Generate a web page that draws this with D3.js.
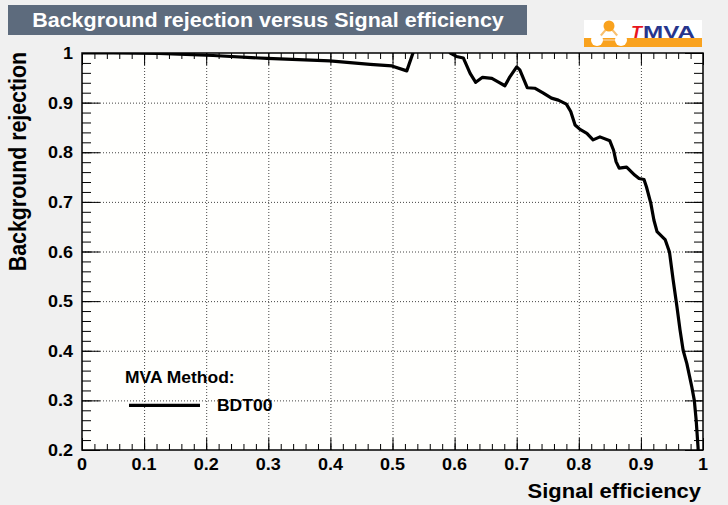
<!DOCTYPE html>
<html>
<head>
<meta charset="utf-8">
<script src="https://cdn.jsdelivr.net/npm/d3@7"></script>
<style>
	body { margin: 0; background: #f0f0f0; }
	svg text { font-family: "Liberation Sans", Arial, Helvetica, sans-serif; font-weight: bold; }
</style>
</head>
<body>
<div id="chart"></div>
<script>
// ROC curve (signal efficiency vs background rejection)
var sigEff = [0.0, 0.05, 0.123, 0.211, 0.298, 0.399, 0.464, 0.499, 0.523, 0.533, 0.545, 0.58, 0.593,
	0.603, 0.614, 0.625, 0.634, 0.645, 0.660, 0.670, 0.681, 0.689, 0.700, 0.705, 0.717, 0.729,
	0.743, 0.756, 0.767, 0.780, 0.787, 0.794, 0.802, 0.813, 0.823, 0.834, 0.850, 0.856, 0.860,
	0.865, 0.877, 0.890, 0.897, 0.905, 0.909, 0.916, 0.921, 0.926, 0.939, 0.946, 0.952, 0.958,
	0.963, 0.968, 0.974, 0.982, 0.986, 0.989, 0.992, 0.994];
var bkgRej = [1.0, 1.0, 0.999, 0.995, 0.989, 0.984, 0.977, 0.974, 0.964, 1.0, 1.03, 1.03, 1.0,
	0.993, 0.990, 0.959, 0.941, 0.951, 0.949, 0.942, 0.934, 0.952, 0.972, 0.966, 0.930, 0.929,
	0.919, 0.909, 0.905, 0.897, 0.882, 0.855, 0.846, 0.838, 0.825, 0.831, 0.823, 0.804, 0.781,
	0.768, 0.770, 0.754, 0.747, 0.745, 0.730, 0.697, 0.663, 0.640, 0.624, 0.599, 0.542, 0.489,
	0.442, 0.401, 0.374, 0.327, 0.300, 0.260, 0.206, 0.15];

var xTicks = [0, 0.1, 0.2, 0.3, 0.4, 0.5, 0.6, 0.7, 0.8, 0.9, 1];
var xTickLabels = ["0", "0.1", "0.2", "0.3", "0.4", "0.5", "0.6", "0.7", "0.8", "0.9", "1"];
var yTicks = [0.2, 0.3, 0.4, 0.5, 0.6, 0.7, 0.8, 0.9, 1];
var yTickLabels = ["0.2", "0.3", "0.4", "0.5", "0.6", "0.7", "0.8", "0.9", "1"];
var methodNames = ["BDT00"];

var W = 728, H = 505;
var margin = {top: 53, right: 25, bottom: 55, left: 82};
var width = W - margin.left - margin.right;
var height = H - margin.top - margin.bottom;
var sq = 0.9; // picture is a bit squashed vertically

var x = d3.scaleLinear().domain([0, 1]).range([0, width]);
var y = d3.scaleLinear().domain([0.2, 1]).range([height, 0]);

var svg = d3.select("#chart").append("svg")
	.attr("width", W)
	.attr("height", H);

svg.append("rect")
	.attr("width", W).attr("height", H)
	.attr("fill", "#f0f0f0");

// title box
svg.append("rect")
	.attr("x", 8).attr("y", 5)
	.attr("width", 519).attr("height", 30)
	.attr("fill", "#5D6B7D");

svg.append("text")
	.attr("transform", "translate(268,27) scale(1," + sq + ")")
	.attr("text-anchor", "middle")
	.attr("fill", "#fff")
	.attr("font-size", "21.5px")
	.text("Background rejection versus Signal efficiency");

// TMVA logo
var logo = svg.append("g").attr("class", "logo");
logo.append("rect").attr("x", 584).attr("y", 20).attr("width", 118).attr("height", 18).attr("fill", "#fff");
logo.append("rect").attr("x", 584).attr("y", 38).attr("width", 118).attr("height", 9).attr("fill", "#f9a21e");
logo.append("line").attr("x1", 609).attr("y1", 26).attr("x2", 597).attr("y2", 40)
	.attr("stroke", "#f9c070").attr("stroke-width", 2);
logo.append("line").attr("x1", 609).attr("y1", 26).attr("x2", 621).attr("y2", 40)
	.attr("stroke", "#f9c070").attr("stroke-width", 2);
logo.append("line").attr("x1", 597).attr("y1", 40).attr("x2", 621).attr("y2", 40)
	.attr("stroke", "#f9c070").attr("stroke-width", 2);
logo.append("circle").attr("cx", 609).attr("cy", 26).attr("r", 5.5).attr("fill", "#f9a21e");
logo.append("circle").attr("cx", 597).attr("cy", 40).attr("r", 6).attr("fill", "#fff");
logo.append("circle").attr("cx", 621).attr("cy", 40).attr("r", 6).attr("fill", "#fff");
logo.append("text")
	.attr("x", 631).attr("y", 37.5)
	.attr("fill", "#e8141c")
	.attr("font-size", "17px")
	.attr("font-style", "italic")
	.attr("textLength", 11).attr("lengthAdjust", "spacingAndGlyphs")
	.text("T");
logo.append("text")
	.attr("x", 643).attr("y", 37.5)
	.attr("fill", "#27358c")
	.attr("font-size", "17px")
	.attr("textLength", 52).attr("lengthAdjust", "spacingAndGlyphs")
	.text("MVA");

var g = svg.append("g")
	.attr("transform", "translate(" + margin.left + "," + margin.top + ")");

// frame
g.append("rect")
	.attr("width", width).attr("height", height)
	.attr("fill", "#fffffd");

// grid lines (dotted), skip the frame edges
var inner = function (arr, lo, hi) { return arr.filter(function (d) { return d > lo && d < hi; }); };

g.append("g")
	.attr("class", "grid")
	.attr("transform", "translate(0," + height + ")")
	.call(d3.axisBottom(x).tickValues(inner(xTicks, 0, 1)).tickSize(-height).tickFormat(""));
g.append("g")
	.attr("class", "grid")
	.call(d3.axisLeft(y).tickValues(inner(yTicks, 0.2, 1)).tickSize(-width).tickFormat(""));
g.selectAll(".grid .domain").remove();
g.selectAll(".grid line")
	.attr("stroke", "#444")
	.attr("stroke-dasharray", "1,2")
	.attr("stroke-width", 1);

// ticks on all four sides, pointing in
var minorX = d3.range(0, 1.0001, 0.02);
var minorY = d3.range(0.2, 1.0001, 0.02);
var tickLenX = 12, tickLenY = 18;

function ticks(axis, vals, len, tr) {
	var a = g.append("g").attr("class", "ticks");
	if (tr) a.attr("transform", tr);
	a.call(axis.tickValues(vals).tickSize(-len).tickFormat(""));
	a.select(".domain").remove();
	a.selectAll("line").attr("stroke", "#000").attr("stroke-width", 1);
}
ticks(d3.axisBottom(x), xTicks, tickLenX, "translate(0," + height + ")");
ticks(d3.axisBottom(x), minorX, tickLenX / 2, "translate(0," + height + ")");
ticks(d3.axisTop(x), xTicks, tickLenX, null);
ticks(d3.axisTop(x), minorX, tickLenX / 2, null);
ticks(d3.axisLeft(y), yTicks, tickLenY, null);
ticks(d3.axisLeft(y), minorY, tickLenY / 2, null);
ticks(d3.axisRight(y), yTicks, tickLenY, "translate(" + width + ",0)");
ticks(d3.axisRight(y), minorY, tickLenY / 2, "translate(" + width + ",0)");

// tick labels
g.selectAll("text.xlab")
	.data(xTicks)
	.join("text")
	.attr("class", "xlab")
	.attr("transform", function (d) { return "translate(" + x(d) + "," + (height + 20) + ") scale(1," + sq + ")"; })
	.attr("text-anchor", "middle")
	.attr("font-size", "18px")
	.text(function (d, i) { return xTickLabels[i]; });

g.selectAll("text.ylab")
	.data(yTicks)
	.join("text")
	.attr("class", "ylab")
	.attr("transform", function (d) { return "translate(-9," + (y(d) + 6) + ") scale(1," + sq + ")"; })
	.attr("text-anchor", "end")
	.attr("font-size", "18px")
	.text(function (d, i) { return yTickLabels[i]; });

// axis titles
svg.append("text")
	.attr("transform", "translate(701,498) scale(1," + sq + ")")
	.attr("text-anchor", "end")
	.attr("font-size", "22px")
	.text("Signal efficiency");

svg.append("text")
	.attr("transform", "translate(26,52) rotate(-90) scale(" + sq + ",1)")
	.attr("text-anchor", "end")
	.attr("font-size", "23.7px")
	.text("Background rejection");

// curve
g.append("clipPath")
	.attr("id", "clip")
	.append("rect")
	.attr("width", width).attr("height", height);

var pts = sigEff.map(function (d, i) { return {x: d, y: bkgRej[i]}; });

var line = d3.line()
	.x(function (d) { return x(d.x); })
	.y(function (d) { return y(d.y); });

g.append("path")
	.datum(pts)
	.attr("clip-path", "url(#clip)")
	.attr("fill", "none")
	.attr("stroke", "#000")
	.attr("stroke-width", 3.2)
	.attr("stroke-linejoin", "round")
	.attr("d", line);

// frame border on top
g.append("rect")
	.attr("width", width).attr("height", height)
	.attr("fill", "none")
	.attr("stroke", "#000")
	.attr("stroke-width", 1.5);

// legend
var leg = g.append("g").attr("transform", "translate(0,0)");
leg.append("text")
	.attr("transform", "translate(43," + (y(0.348) + 6) + ") scale(1," + sq + ")")
	.attr("font-size", "17.5px")
	.text("MVA Method:");
var legItems = leg.selectAll("g.item")
	.data(methodNames)
	.join("g")
	.attr("class", "item")
	.attr("transform", function (d, i) { return "translate(0," + (y(0.29) - i * 24) + ")"; });
legItems.append("line")
	.attr("x1", 47).attr("x2", 118)
	.attr("stroke", "#000").attr("stroke-width", 3.2);
legItems.append("text")
	.attr("transform", "translate(135,6) scale(1," + sq + ")")
	.attr("font-size", "17.5px")
	.text(function (d) { return d; });
</script>
</body>
</html>
